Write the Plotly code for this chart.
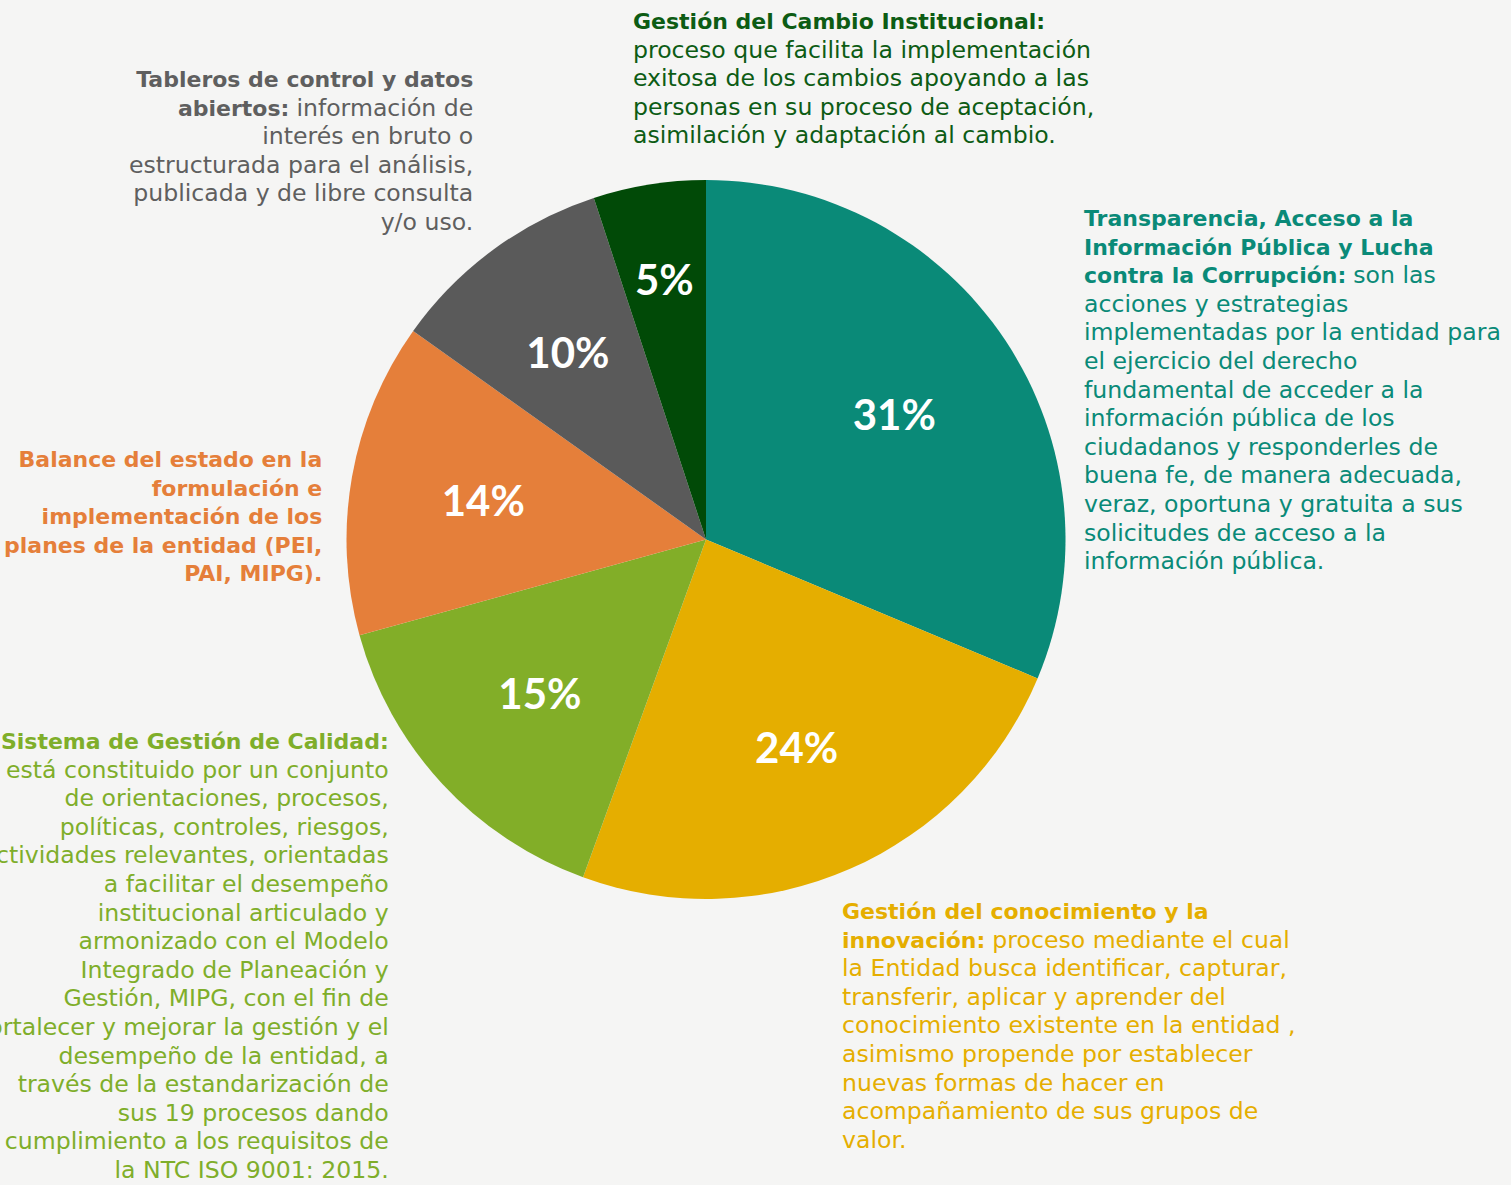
import plotly.graph_objects as go

W, H = 1511, 1185

labels = ["Transparencia", "Gestión del conocimiento", "Sistema de Gestión de Calidad",
          "Balance del estado", "Tableros de control", "Gestión del Cambio"]
values = [31, 24, 15, 14, 10, 5]
colors = ["#0a8a78", "#e5ae00", "#82ae28", "#e57f3a", "#5a5a5a", "#014a07"]

# bold heading lines, regular body lines, and whether the body starts on the last heading line
notes = [
    dict(head=["Transparencia, Acceso a la", "Información Pública y Lucha", "contra la Corrupción:"],
         body=["son las", "acciones y estrategias", "implementadas por la entidad para",
               "el ejercicio del derecho", "fundamental de acceder a la", "información pública de los",
               "ciudadanos y responderles de", "buena fe, de manera adecuada,",
               "veraz, oportuna y gratuita a sus", "solicitudes de acceso a la", "información pública."],
         inline=True, px=1082, py=204, anchor="left", color="#0a8a78"),
    dict(head=["Gestión del conocimiento y la", "innovación:"],
         body=["proceso mediante el cual", "la Entidad busca identificar, capturar,",
               "transferir, aplicar y aprender del", "conocimiento existente en la entidad ,",
               "asimismo propende por establecer", "nuevas formas de hacer en",
               "acompañamiento de sus grupos de", "valor."],
         inline=True, px=840, py=897, anchor="left", color="#e5ae00"),
    dict(head=["Sistema de Gestión de Calidad:"],
         body=["está constituido por un conjunto", "de orientaciones, procesos,",
               "políticas, controles, riesgos,", "actividades relevantes, orientadas",
               "a facilitar el desempeño", "institucional articulado y", "armonizado con el Modelo",
               "Integrado de Planeación y", "Gestión, MIPG, con el fin de",
               "fortalecer y mejorar la gestión y el", "desempeño de la entidad, a",
               "través de la estandarización de", "sus 19 procesos dando",
               "cumplimiento a los requisitos de", "la NTC ISO 9001: 2015."],
         inline=False, px=391, py=727, anchor="right", color="#7fae2a"),
    dict(head=["Balance del estado en la", "formulación e", "implementación de los",
               "planes de la entidad (PEI,", "PAI, MIPG)."],
         body=[], inline=False, px=324, py=445, anchor="right", color="#e57f3a"),
    dict(head=["Tableros de control y datos", "abiertos:"],
         body=["información de", "interés en bruto o", "estructurada para el análisis,",
               "publicada y de libre consulta", "y/o uso."],
         inline=True, px=475, py=65, anchor="right", color="#5f5f5f"),
    dict(head=["Gestión del Cambio Institucional:"],
         body=["proceso que facilita la implementación", "exitosa de los cambios apoyando a las",
               "personas en su proceso de aceptación,", "asimilación y adaptación al cambio."],
         inline=False, px=631, py=7, anchor="left", color="#0d5c14"),
]


def build(n):
    reg = lambda s: "<span style='font-size:23.6px'>%s</span>" % s
    lines = ["<b>%s</b>" % h for h in n["head"]]
    body = list(n["body"])
    if n["inline"] and body:
        lines[-1] += " " + reg(body.pop(0))
    lines += [reg(b) for b in body]
    return "<br>".join(lines)


cx, cy, R = 706, 539.5, 359.5
dom = dict(x=[(cx - R) / W, (cx + R) / W], y=[1 - (cy + R) / H, 1 - (cy - R) / H])
r2 = 0.85 * R
dom2 = dict(x=[(cx - r2) / W, (cx + r2) / W], y=[1 - (cy + r2) / H, 1 - (cy - r2) / H])

fig = go.Figure()
# solid pie
fig.add_trace(go.Pie(
    labels=labels, values=values, sort=False, direction="clockwise", rotation=0,
    marker=dict(colors=colors, line=dict(width=0)),
    textinfo="none", hoverinfo="label+value", showlegend=False, domain=dom,
))
# transparent smaller ring on top, only to place the percentage labels
fig.add_trace(go.Pie(
    labels=labels, values=values, sort=False, direction="clockwise", rotation=0,
    hole=0.48,
    marker=dict(colors=["rgba(0,0,0,0)"] * len(values), line=dict(width=0)),
    texttemplate="<b>%{value}%</b>",
    textposition="inside",
    insidetextorientation="horizontal",
    textfont=dict(family="Lato", size=42, color="white"),
    hoverinfo="skip", showlegend=False, domain=dom2,
))

for n in notes:
    fig.add_annotation(
        text=build(n), x=n["px"] / W, y=1 - n["py"] / H,
        xref="paper", yref="paper", xanchor=n["anchor"], yanchor="top",
        align=n["anchor"], showarrow=False,
        font=dict(family="DejaVu Sans", size=22, color=n["color"]),
    )

fig.update_layout(
    width=W, height=H,
    margin=dict(l=0, r=0, t=0, b=0),
    paper_bgcolor="#f5f5f4",
    plot_bgcolor="#f5f5f4",
    uniformtext=dict(minsize=30, mode="show"),
)

fig.write_html("out.html", config={"displayModeBar": False},
               post_script="document.body.style.margin='0';")
